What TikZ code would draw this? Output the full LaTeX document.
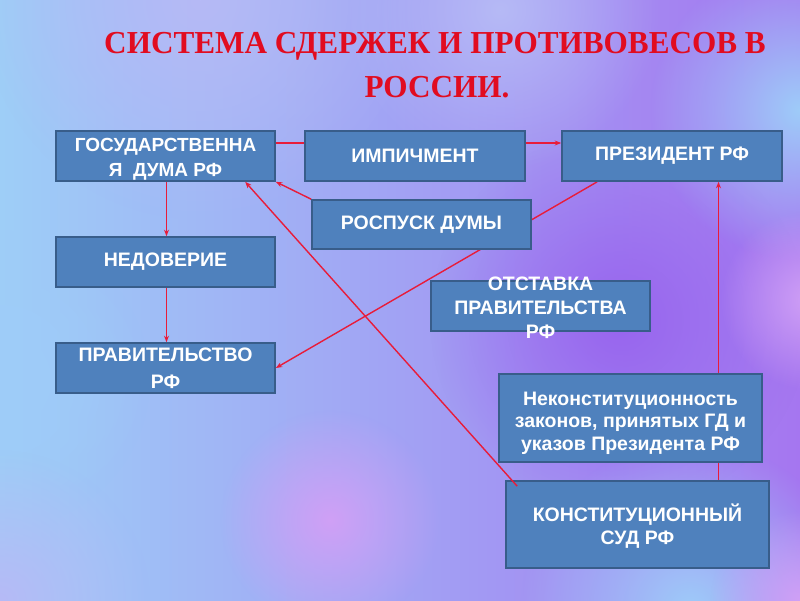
\documentclass[tikz,border=0pt]{standalone}
\usepackage{fontspec}
\newfontfamily\boxfont{Liberation Sans}
\newfontfamily\titlefont[FakeStretch=0.975]{Liberation Serif}
\usetikzlibrary{arrows.meta,fadings}
\pgfdeclarelayer{back}
\pgfdeclarelayer{bg}
\pgfdeclarelayer{top}
\pgfsetlayers{back,bg,main,top}
\definecolor{bgL}{RGB}{158,206,247}
\definecolor{bgM}{RGB}{202,156,243}
\definecolor{bgR}{RGB}{165,118,240}
\definecolor{blobBlue}{RGB}{158,204,249}
\definecolor{blobLav}{RGB}{182,186,246}
\definecolor{blobPur}{RGB}{152,100,238}
\definecolor{blobPink}{RGB}{208,160,246}
\definecolor{boxfill}{RGB}{79,129,189}
\definecolor{boxline}{RGB}{56,93,138}
\definecolor{titlered}{RGB}{225,12,32}
\definecolor{linered}{RGB}{232,28,58}
\tikzfading[name=softfade, inner color=transparent!0, outer color=transparent!100]
\newcommand{\topstrut}[1]{\rule{0pt}{#1}}
\tikzset{
  box/.style={draw=boxline, fill=boxfill, line width=1.6pt, text=white,
    align=center, inner sep=0pt, minimum width=219pt, minimum height=50pt,
    font={\boxfont\bfseries\fontsize{19.5}{24}\selectfont}},
  conn/.style={draw=linered, line width=1.4pt, -{Stealth[length=6.5pt,width=5pt]}},
  ttl/.style={text=titlered, inner sep=0pt, anchor=base,
    font={\titlefont\bfseries\fontsize{32}{40}\selectfont}},
  blob/.style={path fading=softfade}
}
\begin{document}
\begin{tikzpicture}[x=1pt,y=-1pt]
\useasboundingbox (0,0) rectangle (800,600);
\begin{pgfonlayer}{back}
\shade[left color=bgL, middle color=bgM, right color=bgR] (0,0) rectangle (800,600);
\begin{scope}
\clip (0,0) rectangle (800,600);
\fill[blobPur, blob] (620,320) circle (190);
\fill[blobBlue, blob] (800,110) circle (150);
\fill[blobBlue, blob] (690,610) circle (170);
\fill[blobLav, blob] (200,0) circle (220);
\fill[blobLav, blob] (500,10) circle (160);
\fill[blobBlue, blob] (0,380) circle (150);
\fill[blobLav, blob] (0,600) circle (150);
\fill[blobPink, blob] (810,300) circle (90);
\fill[blobPink, blob] (800,600) circle (90);
\fill[blobPink, blob] (330,520) circle (110);
\end{scope}
\end{pgfonlayer}

\node[ttl] (t1) at (435,53) {СИСТЕМА СДЕРЖЕК И ПРОТИВОВЕСОВ В};
\node[ttl] (t2) at (437,97) {РОССИИ.};

\node[box, font={\boxfont\bfseries\fontsize{19}{25}\selectfont}] (gd) at (165.5,156) {\topstrut{20pt}ГОСУДАРСТВЕННА\\Я\ \ ДУМА РФ};
\node[box, minimum width=220pt] (imp) at (415,156) {ИМПИЧМЕНТ};
\node[box, minimum width=220pt] (pres) at (672,156) {ПРЕЗИДЕНТ РФ};
\node[box, minimum height=49pt] (rosp) at (421.5,224.5) {РОСПУСК ДУМЫ};
\node[box] (nedov) at (165.5,262) {НЕДОВЕРИЕ};
\node[box] (otst) at (540.5,306) {\smash{\raisebox{-9pt}{\begin{tabular}{@{}c@{}}ОТСТАВКА\\ПРАВИТЕЛЬСТВА\\РФ\end{tabular}}}};
\node[box, font={\boxfont\bfseries\fontsize{19.5}{27}\selectfont}] (prav) at (165.5,368) {ПРАВИТЕЛЬСТВО\\РФ};
\node[box, minimum width=263pt, minimum height=88pt, font={\boxfont\bfseries\fontsize{19.5}{22.5}\selectfont}] (nekon) at (630.5,418) {\topstrut{24pt}Неконституционность\\законов, принятых ГД и\\указов Президента РФ};
\node[box, minimum width=263pt, minimum height=87pt, font={\boxfont\bfseries\fontsize{19.5}{23}\selectfont}] (ks) at (637.5,524.5) {\topstrut{20pt}КОНСТИТУЦИОННЫЙ\\СУД РФ};

\begin{pgfonlayer}{bg}
\draw[conn] ([yshift=13pt]gd.east) -- ([yshift=13pt]pres.west);
\draw[conn] ([xshift=36pt]pres.south west) -- (prav.east);
\draw[conn] (rosp.north west) -- (gd.south east);
\draw[conn] ([xshift=1pt]gd.south) -- ([xshift=1pt]nedov.north);
\draw[conn] ([xshift=1pt]nedov.south) -- ([xshift=1pt]prav.north);
\draw[conn] ([xshift=213.3pt]ks.north west) -- ([xshift=157.3pt]pres.south west);
\end{pgfonlayer}
\begin{pgfonlayer}{top}
\draw[conn] ([xshift=12pt,yshift=-6pt]ks.north west) -- ([xshift=190pt]gd.south west);
\end{pgfonlayer}
\end{tikzpicture}
\end{document}
